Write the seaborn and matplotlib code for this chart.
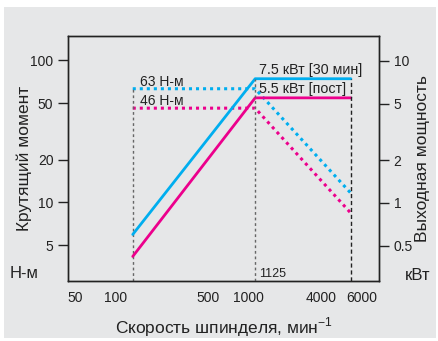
import numpy as np
import pandas as pd
import matplotlib
matplotlib.use('Agg')
import matplotlib.pyplot as plt
import matplotlib.transforms as mtransforms
from matplotlib.patches import Rectangle
import seaborn as sns

# spindle speed breakpoints, min^-1
speed = [135, 1125, 5900]
# output power, kW (solid lines, right axis)
power_30min = [0.6, 7.5, 7.5]
power_cont = [0.42, 5.5, 5.5]
# torque, N-m (dotted lines, left axis)
torque_30min = [63, 63, 11.6]
torque_cont = [46, 46, 8.4]

x_ticks = [50, 100, 500, 1000, 4000, 6000]
y_ticks_left = [5, 10, 20, 50, 100]
y_ticks_right = [0.5, 1, 2, 5, 10]

blue = '#00aeef'
pink = '#ec008c'
bg = '#e6e7e8'
ink = '#222222'

sns.set_style('white')
plt.rcParams['font.family'] = ['Liberation Sans', 'DejaVu Sans']

fig = plt.figure(figsize=(4.38, 3.41), dpi=100)
fig.patch.set_facecolor('white')
fig.patches.append(Rectangle((4/438, 3/341), 432/438, 331/341, transform=fig.transFigure,
                             facecolor=bg, edgecolor='none', zorder=-10))

ax = fig.add_axes([68/438, 60/341, 311/438, 245/341])
ax.set_facecolor(bg)
ax2 = ax.twinx()

df = pd.DataFrame({'speed': speed, 'p30': power_30min, 'pc': power_cont,
                   't30': torque_30min, 'tc': torque_cont})

dots = (0, (1, 1.3))
sns.lineplot(data=df, x='speed', y='t30', ax=ax, color=blue, lw=2.2, linestyle=dots)
sns.lineplot(data=df, x='speed', y='tc', ax=ax, color=pink, lw=2.2, linestyle=dots)
sns.lineplot(data=df, x='speed', y='p30', ax=ax2, color=blue, lw=2)
sns.lineplot(data=df, x='speed', y='pc', ax=ax2, color=pink, lw=2)

for a in (ax, ax2):
    a.set_xscale('log')
    a.set_yscale('log')
    a.set_xlim(44, 9600)
    a.minorticks_off()
ax.set_ylim(2.8, 148)
ax2.set_ylim(0.282, 15.0)

# reference verticals
ax.vlines(speed[0], 2.8, torque_30min[0], colors='#666666', linestyles=(0, (2, 2)), lw=1)
ax2.vlines(speed[1], 0.282, power_30min[1], colors='#666666', linestyles=(0, (2, 2)), lw=1)
ax2.vlines(speed[2], 0.282, power_30min[2], colors=ink, linestyles=(0, (3, 2)), lw=1)

ax.set_xticks(x_ticks)
ax.set_xticklabels([str(v) for v in x_ticks])
ax.set_yticks(y_ticks_left)
ax.set_yticklabels([str(v) for v in y_ticks_left])
ax2.set_yticks(y_ticks_right)
ax2.set_yticklabels([str(v) for v in y_ticks_right])

ax.tick_params(axis='x', direction='in', length=7, width=1, labelsize=10, pad=7, colors=ink)
ax.tick_params(axis='y', direction='out', length=7, width=1, labelsize=10, colors=ink)
ax2.tick_params(axis='y', direction='out', length=7, width=1, labelsize=10, colors=ink)
for a in (ax, ax2):
    for s in a.spines.values():
        s.set_color(ink)
        s.set_linewidth(1)

# nudge the two crowded labels apart, as in the original
labels = ax.get_xticklabels()
for lab, dx in ((labels[4], -7), (labels[5], 10)):
    lab.set_transform(lab.get_transform() + mtransforms.ScaledTranslation(dx / 100, 0, fig.dpi_scale_trans))

ax.set_xlabel('Скорость шпинделя, мин$^{\\mathregular{-1}}$', fontsize=12.5, labelpad=8, color=ink)
ax.set_ylabel('Крутящий момент', fontsize=12.5, color=ink)
ax2.set_ylabel('Выходная мощность', fontsize=12.5, color=ink)
ax.yaxis.set_label_coords(-0.115, 0.5)
ax2.yaxis.set_label_coords(1.115, 0.5)

ax.text(152, 70, '63 Н-м', fontsize=10, va='center', ha='left', color=ink)
ax.text(152, 52, '46 Н-м', fontsize=10, va='center', ha='left', color=ink)
ax2.text(1200, 8.7, '7.5 кВт [30 мин]', fontsize=10.3, va='center', ha='left', color=ink)
ax2.text(1200, 6.4, '5.5 кВт [пост]', fontsize=10.3, va='center', ha='left', color=ink)
ax.text(1210, 3.15, '1125', fontsize=9, va='center', ha='left', color=ink)

fig.text(10/438, 1 - 274/341, 'Н-м', fontsize=12, va='center', ha='left', color=ink)
fig.text(405/438, 1 - 276/341, 'кВт', fontsize=12, va='center', ha='left', color=ink)

fig.savefig('out.png', dpi=100)
